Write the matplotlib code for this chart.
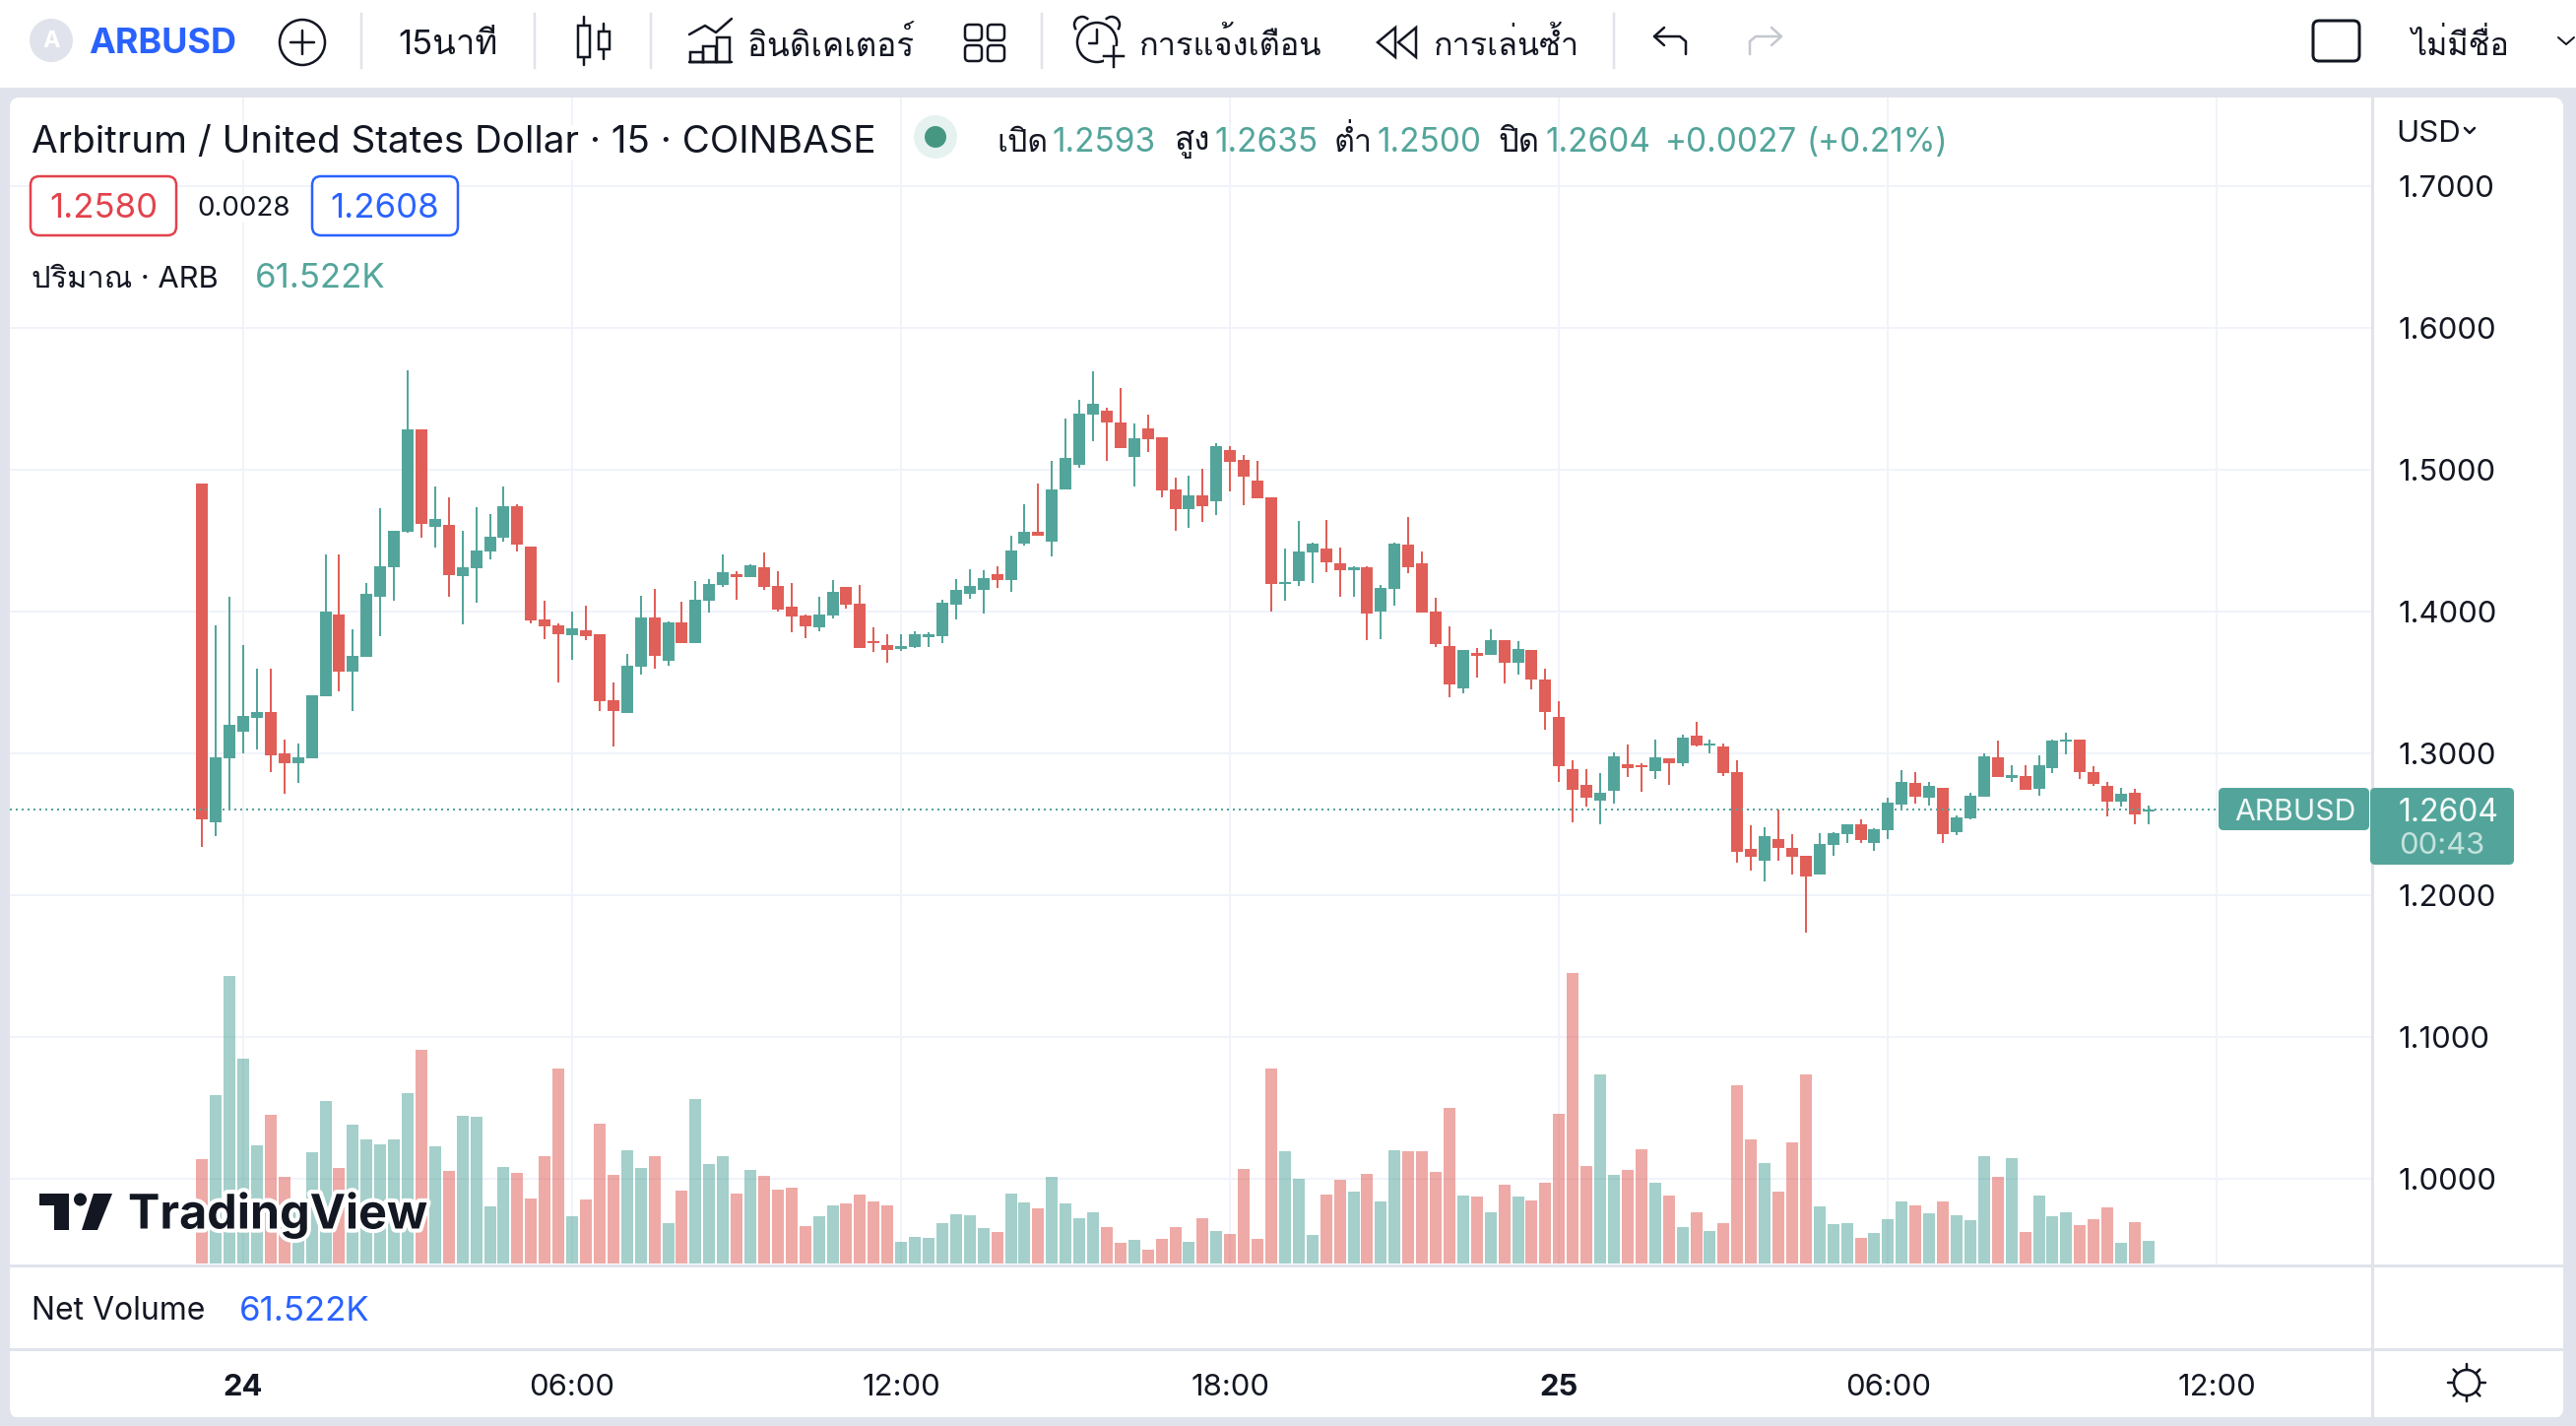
#!/usr/bin/env python3

import numpy as np
import matplotlib
matplotlib.use('Agg')
import matplotlib.pyplot as plt
import matplotlib.patheffects as pe
from matplotlib import font_manager
from matplotlib.ft2font import FT2Font
from matplotlib.patches import Circle, FancyBboxPatch, Polygon, Rectangle, Arc

# look for whatever installed family can draw Thai
thai_families = []
for f in font_manager.fontManager.ttflist:
    try:
        if 0x0E01 in FT2Font(f.fname).get_charmap() and f.name not in thai_families:
            thai_families.append(f.name)
    except Exception:
        pass

plt.rcParams['font.family'] = ['Inter'] + thai_families + ['DejaVu Sans']

opens = [1.4903, 1.2514, 1.2965, 1.3153, 1.3250, 1.3292, 1.3000, 1.2931, 1.2965, 1.3403, 1.3979, 1.3576, 1.3681, 1.4104, 1.4312, 1.4562,
         1.5285, 1.4597, 1.4611, 1.4250, 1.4306, 1.4424, 1.4521, 1.4743, 1.4458, 1.3944, 1.3903, 1.3833, 1.3868, 1.3840, 1.3375, 1.3285,
         1.3611, 1.3958, 1.3653, 1.3924, 1.3778, 1.4076, 1.4187, 1.4264, 1.4243, 1.4312, 1.4181, 1.4035, 1.3972, 1.3889, 1.3972, 1.4174,
         1.4056, 1.3792, 1.3764, 1.3736, 1.3750, 1.3819, 1.3826, 1.4049, 1.4125, 1.4153, 1.4264, 1.4222, 1.4479, 1.4562, 1.4493, 1.4861,
         1.5035, 1.5389, 1.5417, 1.5333, 1.5090, 1.5292, 1.5229, 1.4861, 1.4722, 1.4819, 1.4778, 1.5139, 1.5069, 1.4924, 1.4806, 1.4194,
         1.4215, 1.4417, 1.4444, 1.4340, 1.4292, 1.4313, 1.4000, 1.4160, 1.4472, 1.4340, 1.4000, 1.3757, 1.3458, 1.3708, 1.3694, 1.3799,
         1.3639, 1.3729, 1.3521, 1.3257, 1.2889, 1.2778, 1.2667, 1.2736, 1.2924, 1.2917, 1.2875, 1.2965, 1.2931, 1.3125, 1.3056, 1.3049,
         1.2868, 1.2326, 1.2243, 1.2396, 1.2333, 1.2278, 1.2146, 1.2354, 1.2431, 1.2500, 1.2368, 1.2458, 1.2639, 1.2792, 1.2688, 1.2757,
         1.2444, 1.2542, 1.2694, 1.2972, 1.2826, 1.2840, 1.2750, 1.2896, 1.3083, 1.3097, 1.2868, 1.2771, 1.2660, 1.2722, 1.2593]
highs = [1.4903, 1.3903, 1.4104, 1.3764, 1.3597, 1.3597, 1.3097, 1.3069, 1.3410, 1.4403, 1.4403, 1.3875, 1.4201, 1.4729, 1.4569, 1.5701,
         1.5285, 1.4882, 1.4806, 1.4569, 1.4736, 1.4687, 1.4882, 1.4757, 1.4458, 1.4076, 1.3917, 1.4000, 1.4042, 1.3840, 1.3500, 1.3701,
         1.4111, 1.4160, 1.3931, 1.4069, 1.4215, 1.4229, 1.4403, 1.4285, 1.4333, 1.4417, 1.4285, 1.4201, 1.3979, 1.4104, 1.4222, 1.4174,
         1.4187, 1.3889, 1.3840, 1.3840, 1.3861, 1.3854, 1.4083, 1.4229, 1.4299, 1.4292, 1.4319, 1.4535, 1.4757, 1.4903, 1.5063, 1.5361,
         1.5493, 1.5694, 1.5438, 1.5576, 1.5326, 1.5389, 1.5229, 1.4944, 1.4958, 1.5007, 1.5188, 1.5167, 1.5104, 1.5063, 1.4806, 1.4444,
         1.4639, 1.4486, 1.4646, 1.4451, 1.4319, 1.4319, 1.4188, 1.4486, 1.4667, 1.4424, 1.4097, 1.3896, 1.3729, 1.3743, 1.3875, 1.3799,
         1.3792, 1.3729, 1.3597, 1.3368, 1.2951, 1.2889, 1.2861, 1.3007, 1.3063, 1.2931, 1.3097, 1.2965, 1.3132, 1.3222, 1.3097, 1.3069,
         1.2951, 1.2493, 1.2479, 1.2604, 1.2431, 1.2278, 1.2438, 1.2444, 1.2500, 1.2535, 1.2472, 1.2688, 1.2882, 1.2868, 1.2799, 1.2757,
         1.2563, 1.2722, 1.3000, 1.3090, 1.2917, 1.2917, 1.2986, 1.3097, 1.3146, 1.3097, 1.2910, 1.2799, 1.2757, 1.2750, 1.2635]
lows = [1.2340, 1.2417, 1.2600, 1.3000, 1.3028, 1.2868, 1.2715, 1.2792, 1.2965, 1.3403, 1.3437, 1.3299, 1.3681, 1.3826, 1.4076, 1.4556,
        1.4521, 1.4451, 1.4104, 1.3910, 1.4062, 1.4368, 1.4493, 1.4424, 1.3917, 1.3806, 1.3500, 1.3660, 1.3799, 1.3299, 1.3049, 1.3285,
        1.3556, 1.3597, 1.3618, 1.3778, 1.3778, 1.3993, 1.4174, 1.4083, 1.4243, 1.4153, 1.4000, 1.3854, 1.3812, 1.3861, 1.3951, 1.4021,
        1.3743, 1.3715, 1.3639, 1.3722, 1.3743, 1.3750, 1.3778, 1.3944, 1.4090, 1.3986, 1.4167, 1.4139, 1.4465, 1.4535, 1.4389, 1.4861,
        1.5014, 1.5201, 1.5063, 1.5153, 1.4882, 1.5125, 1.4806, 1.4569, 1.4590, 1.4632, 1.4681, 1.4847, 1.4750, 1.4801, 1.4000, 1.4076,
        1.4181, 1.4201, 1.4278, 1.4104, 1.4104, 1.3799, 1.3806, 1.4042, 1.4271, 1.3993, 1.3750, 1.3396, 1.3424, 1.3535, 1.3694, 1.3493,
        1.3556, 1.3451, 1.3167, 1.2799, 1.2514, 1.2625, 1.2500, 1.2646, 1.2833, 1.2729, 1.2819, 1.2778, 1.2910, 1.3049, 1.3000, 1.2840,
        1.2229, 1.2174, 1.2097, 1.2243, 1.2146, 1.1736, 1.2146, 1.2278, 1.2368, 1.2368, 1.2312, 1.2396, 1.2604, 1.2646, 1.2632, 1.2368,
        1.2424, 1.2535, 1.2694, 1.2833, 1.2799, 1.2743, 1.2701, 1.2861, 1.2993, 1.2819, 1.2771, 1.2556, 1.2625, 1.2500, 1.2500]
closes = [1.2537, 1.2972, 1.3201, 1.3264, 1.3292, 1.2986, 1.2931, 1.2972, 1.3410, 1.4000, 1.3576, 1.3687, 1.4125, 1.4319, 1.4569, 1.5285,
          1.4618, 1.4653, 1.4257, 1.4312, 1.4431, 1.4528, 1.4743, 1.4472, 1.3937, 1.3896, 1.3840, 1.3882, 1.3826, 1.3368, 1.3299, 1.3618,
          1.3958, 1.3687, 1.3924, 1.3778, 1.4083, 1.4194, 1.4278, 1.4243, 1.4326, 1.4174, 1.4014, 1.3965, 1.3896, 1.3979, 1.4139, 1.4049,
          1.3743, 1.3778, 1.3729, 1.3757, 1.3840, 1.3840, 1.4062, 1.4153, 1.4181, 1.4236, 1.4222, 1.4431, 1.4562, 1.4535, 1.4861, 1.5083,
          1.5396, 1.5465, 1.5333, 1.5153, 1.5222, 1.5215, 1.4854, 1.4722, 1.4819, 1.4743, 1.5167, 1.5056, 1.4951, 1.4801, 1.4194, 1.4208,
          1.4424, 1.4479, 1.4347, 1.4292, 1.4313, 1.3986, 1.4167, 1.4479, 1.4313, 1.3993, 1.3771, 1.3486, 1.3729, 1.3688, 1.3799, 1.3639,
          1.3736, 1.3521, 1.3292, 1.2910, 1.2743, 1.2688, 1.2722, 1.2979, 1.2896, 1.2903, 1.2972, 1.2931, 1.3111, 1.3056, 1.3069, 1.2861,
          1.2306, 1.2271, 1.2417, 1.2333, 1.2271, 1.2132, 1.2361, 1.2438, 1.2500, 1.2389, 1.2465, 1.2653, 1.2799, 1.2694, 1.2771, 1.2431,
          1.2549, 1.2701, 1.2979, 1.2833, 1.2847, 1.2743, 1.2917, 1.3090, 1.3097, 1.2868, 1.2785, 1.2660, 1.2715, 1.2569, 1.2604]

# volume per bar, thousands of ARB
volumes = [283.5, 457.4, 781.0, 556.4, 321.0, 403.9, 235.4, 150.7, 302.3, 441.3, 259.5, 377.1, 337.0, 323.6, 337.0, 462.7,
           580.4, 318.3, 251.4, 401.2, 398.5, 155.1, 262.1, 246.1, 176.5, 291.6, 529.6, 128.4, 173.9, 379.8, 240.7, 307.6,
           259.5, 291.6, 109.7, 197.9, 446.7, 270.2, 291.6, 189.9, 254.1, 238.1, 200.6, 206.0, 101.6, 128.4, 157.8, 163.2,
           187.2, 168.5, 157.8, 58.8, 72.2, 69.5, 109.7, 133.7, 131.1, 96.3, 85.6, 189.9, 165.8, 149.8, 235.4, 163.2,
           123.0, 139.1, 99.0, 56.2, 64.2, 37.4, 66.9, 99.0, 58.8, 123.0, 88.3, 80.2, 256.8, 66.9, 529.6, 304.9,
           230.0, 77.6, 187.2, 227.4, 195.3, 243.4, 168.5, 307.6, 304.9, 304.9, 248.8, 422.6, 184.6, 181.9, 139.1, 214.0,
           181.9, 171.2, 219.3, 406.6, 789.1, 264.8, 513.6, 240.7, 254.1, 310.3, 219.3, 184.6, 99.0, 139.1, 88.3, 109.7,
           484.1, 337.0, 272.8, 195.3, 329.0, 513.6, 155.1, 107.0, 109.7, 69.5, 82.9, 120.4, 168.5, 157.8, 136.4, 168.5,
           131.1, 117.7, 291.6, 235.4, 286.2, 85.6, 184.6, 128.4, 139.1, 104.3, 120.4, 152.5, 56.2, 112.3, 61.522]

price_ticks = [1.0, 1.1, 1.2, 1.3, 1.4, 1.5, 1.6, 1.7]
time_ticks = [0, 24, 48, 72, 96, 120, 144]  # bars since midnight on the 24th
time_labels = ['24', '06:00', '12:00', '18:00', '25', '06:00', '12:00']
last_price = 1.2604

W, H = 2616, 1448
UP, DOWN = '#53A59B', '#E05F58'
TEXT = '#131722'
GRID = '#F0F3FA'
LINE = '#E0E3EB'
BLUE = '#2962FF'
PX = 0.72  # one pixel in points at dpi 100

fig = plt.figure(figsize=(W / 100, H / 100), dpi=100, facecolor=LINE)

# page furniture, in image pixels
back = fig.add_axes([0, 0, 1, 1], zorder=0)
back.set_xlim(0, W)
back.set_ylim(H, 0)
back.axis('off')
back.add_patch(Rectangle((0, 0), W, 89, color='white', lw=0))
back.add_patch(FancyBboxPatch((10, 99), 2593, 1341, boxstyle='round,pad=0,rounding_size=10', fc='white', ec='none'))

# chart pane
left, right, top, bottom = 10, 2408, 99, 1285
ax = fig.add_axes([left / W, 1 - bottom / H, (right - left) / W, (bottom - top) / H], zorder=1)
ax.patch.set_alpha(0)
bar_px = 13.92
ax.set_xlim((left - 247) / bar_px, (right - 247) / bar_px)
ax.set_ylim(1.5 - (bottom - 477) / 1440, 1.5 - (top - 477) / 1440)

x = np.arange(len(opens)) - 3
o = np.array(opens)
h = np.array(highs)
l = np.array(lows)
c = np.array(closes)
colors = np.where(c >= o, UP, DOWN)

# volume sits in its own scale at the foot of the pane
ax_vol = ax.twinx()
ax_vol.patch.set_alpha(0)
ax_vol.set_ylim(-2 * 2.675, (1283 - top) * 2.675)
ax_vol.bar(x, volumes, width=12 / bar_px, color=colors, alpha=0.53, lw=0)
ax_vol.yaxis.set_visible(False)
for s in ax_vol.spines.values():
    s.set_visible(False)

ax.grid(True, color=GRID, lw=2 * PX)
ax.set_axisbelow(True)
ax.vlines(x, l, h, colors=colors, lw=2 * PX, zorder=3)
ax.bar(x, np.maximum(np.abs(c - o), 0.0014), bottom=np.minimum(o, c), width=12 / bar_px, color=colors, lw=0, zorder=3)
ax.axhline(last_price, xmax=(2253 - left) / (right - left), color=UP, lw=2 * PX, ls=(0, (1, 2)), zorder=4)

for s in ax.spines.values():
    s.set_visible(False)
ax.yaxis.tick_right()
ax.set_yticks(price_ticks)
ax.set_yticklabels(['%.4f' % p for p in price_ticks], fontsize=22.3, color=TEXT)
ax.set_xticks(time_ticks)
ax.set_xticklabels(time_labels, fontsize=22.3, color=TEXT)
ax.tick_params(axis='both', length=0)
ax.tick_params(axis='y', pad=20)
ax.tick_params(axis='x', pad=79)
for t in ax.get_xticklabels():
    if t.get_text() in ('24', '25'):
        t.set_fontweight('bold')

# everything on top: labels and icons
over = fig.add_axes([0, 0, 1, 1], zorder=5)
over.set_xlim(0, W)
over.set_ylim(H, 0)
over.axis('off')
over.patch.set_alpha(0)
renderer = fig.canvas.get_renderer()


def label(px, py, s, size=24, color=TEXT, **kw):
    kw.setdefault('ha', 'left')
    kw.setdefault('va', 'center')
    return over.text(px, py + 3, s, fontsize=size, color=color, **kw)


def fitted(px0, px1, py, s, size=24, color=TEXT):
    # Thai strings: keep them inside the span they have in the reference
    t = label(px0, py, s, size=size, color=color)
    w = t.get_window_extent(renderer).width
    t.set_fontsize(size * min(1.0, (px1 - px0) / w))
    return t


def stroke(xs, ys, color=TEXT, lw=2.5):
    over.plot(xs, ys, color=color, lw=lw * PX, solid_capstyle='round', solid_joinstyle='round')


def rbox(px, py, w, h, r=6, fc='none', ec=TEXT, lw=2.5):
    over.add_patch(FancyBboxPatch((px, py), w, h, boxstyle='round,pad=0,rounding_size=%g' % r, fc=fc, ec=ec, lw=lw * PX))


# axis separators
over.plot([right + 1, right + 1], [top, 1440], color=LINE, lw=3 * PX)
over.plot([left, 2603], [1285, 1285], color=LINE, lw=3 * PX)
over.plot([left, 2603], [1370, 1370], color=LINE, lw=3 * PX)
over.plot([left, 2603], [1440, 1440], color=LINE, lw=3 * PX)

# toolbar
for sx in (367, 543, 661, 1058, 1639):
    over.plot([sx, sx], [14, 69], color=LINE, lw=2.5 * PX)
over.add_patch(Circle((52, 41), 22, fc=LINE, ec='none'))
label(52, 39, 'A', size=17, color='white', ha='center', fontweight='bold')
label(90, 42, 'ARBUSD', size=25.9, color=BLUE, fontweight='bold')
over.add_patch(Circle((307, 43), 23, fc='none', ec=TEXT, lw=2.5 * PX))
stroke([295, 319], [43, 43])
stroke([307, 307], [31, 55])
fitted(404, 507, 43, '15นาที', size=25)

stroke([593, 593], [17, 66])
over.add_patch(Rectangle((587, 26), 12, 32, fc='white', ec=TEXT, lw=2.5 * PX, zorder=3))
stroke([613, 613], [24, 60])
over.add_patch(Rectangle((608, 32), 11, 18, fc='white', ec=TEXT, lw=2.5 * PX, zorder=3))

stroke([700, 716, 727, 743], [35, 26, 33, 19])
stroke([700, 743], [63, 63])
for bx, by in ((701, 53), (714, 47), (728, 38)):
    over.add_patch(Rectangle((bx, by), 13, 63 - by, fc='none', ec=TEXT, lw=2.5 * PX))
fitted(759, 928, 43, 'อินดิเคเตอร์')

for bx in (980, 1003):
    for by in (25, 46):
        rbox(bx, by, 17, 16, r=4)

over.add_patch(Circle((1114, 43), 20, fc='none', ec=TEXT, lw=2.5 * PX))
over.add_patch(Arc((1099, 25), 16, 16, angle=0, theta1=140, theta2=320, ec=TEXT, lw=2.5 * PX))
over.add_patch(Arc((1129, 25), 16, 16, angle=0, theta1=220, theta2=40, ec=TEXT, lw=2.5 * PX))
stroke([1114, 1114, 1106], [30, 44, 44])
over.add_patch(Rectangle((1121, 47), 20, 20, fc='white', ec='none', zorder=3))
over.plot([1121, 1141], [57, 57], color=TEXT, lw=2.5 * PX, zorder=4)
over.plot([1131, 1131], [47, 68], color=TEXT, lw=2.5 * PX, zorder=4)
fitted(1156, 1342, 43, 'การแจ้งเตือน')

for tx in (1399, 1420):
    over.add_patch(Polygon([(tx, 43), (tx + 18, 28), (tx + 18, 58)], closed=True, fc='none', ec=TEXT, lw=2.5 * PX))
fitted(1455, 1603, 43, 'การเล่นซ้ำ')

stroke([1680, 1706, 1712, 1712], [37, 37, 42, 55])
stroke([1690, 1680, 1690], [28, 37, 46])
stroke([1809, 1783, 1777, 1777], [37, 37, 42, 55], color='#C4C7CF')
stroke([1799, 1809, 1799], [28, 37, 46], color='#C4C7CF')

rbox(2349, 21, 47, 41, r=6, lw=3)
fitted(2448, 2548, 43, 'ไม่มีชื่อ')
stroke([2598, 2606, 2614], [38, 45, 38], lw=2)

# legend block
title = label(32, 142, 'Arbitrum / United States Dollar · 15 · COINBASE', size=27.8)
title.set_bbox(dict(fc='white', ec='none', pad=0))
over.add_patch(Circle((950, 139), 22, fc='#E6F2F0', ec='none'))
over.add_patch(Circle((950, 139), 11, fc='#459782', ec='none'))

for px0, px1, s in ((1012, 1064, 'เปิด'), (1192, 1229, 'สูง'), (1355, 1394, 'ต่ำ'), (1521, 1563, 'ปิด')):
    fitted(px0, px1, 142, s)
for px, s in ((1068, '1.2593'), (1233, '1.2635'), (1398, '1.2500'), (1569, '1.2604'), (1691, '+0.0027'), (1835, '(+0.21%)')):
    label(px, 142, s, size=24, color=UP)

rbox(31, 179, 148, 60, r=9, fc='white', ec='#E2424C')
label(105, 209, '1.2580', size=25, color='#E2424C', ha='center')
label(248, 209, '0.0028', size=20, ha='center', bbox=dict(fc='white', ec='none', pad=1))
rbox(317, 179, 148, 60, r=9, fc='white', ec=BLUE)
label(391, 209, '1.2608', size=25, color=BLUE, ha='center')

fitted(32, 222, 281, 'ปริมาณ · ARB', size=23)
label(259, 280, '61.522K', size=25, color=UP)

label(2433, 133, 'USD', size=22.5)
stroke([2503, 2508, 2513], [130, 135, 130], lw=2.5)

# last price badges
over.add_patch(FancyBboxPatch((2253, 800), 153, 43, boxstyle='round,pad=0,rounding_size=5', fc=UP, ec='none', zorder=2.5))
label(2331, 822, 'ARBUSD', size=21.7, color='#F0F8F7', ha='center')
over.add_patch(FancyBboxPatch((2407, 800), 146, 78, boxstyle='round,pad=0,rounding_size=5', fc=UP, ec='none', zorder=2.5))
label(2436, 823, '1.2604', size=23, color='#F4FAF9')
label(2436, 856, '00:43', size=22.3, color='#C5E2DE')

# net volume pane
label(32, 1329, 'Net Volume', size=23)
label(243, 1329, '61.522K', size=25, color=BLUE)

# sun icon next to the time axis
over.add_patch(Circle((2505, 1404), 13, fc='none', ec=TEXT, lw=2.5 * PX))
for ang in np.deg2rad(np.arange(0, 360, 45)):
    stroke([2505 + 13 * np.cos(ang), 2505 + 19 * np.cos(ang)], [1404 + 13 * np.sin(ang), 1404 + 19 * np.sin(ang)])

# watermark
over.add_patch(Polygon([(40, 1212), (70, 1212), (70, 1249), (55, 1249), (55, 1224), (40, 1224)], closed=True, fc=TEXT, ec='none'))
over.add_patch(Circle((81.5, 1218), 6.5, fc=TEXT, ec='none'))
over.add_patch(Polygon([(95, 1212), (114, 1212), (99, 1249), (83, 1249)], closed=True, fc=TEXT, ec='none'))
mark = label(130, 1231, 'TradingView', size=34.9, fontweight='bold')
mark.set_path_effects([pe.withStroke(linewidth=6, foreground='white')])

fig.savefig('out.png', dpi=100, facecolor=fig.get_facecolor())
